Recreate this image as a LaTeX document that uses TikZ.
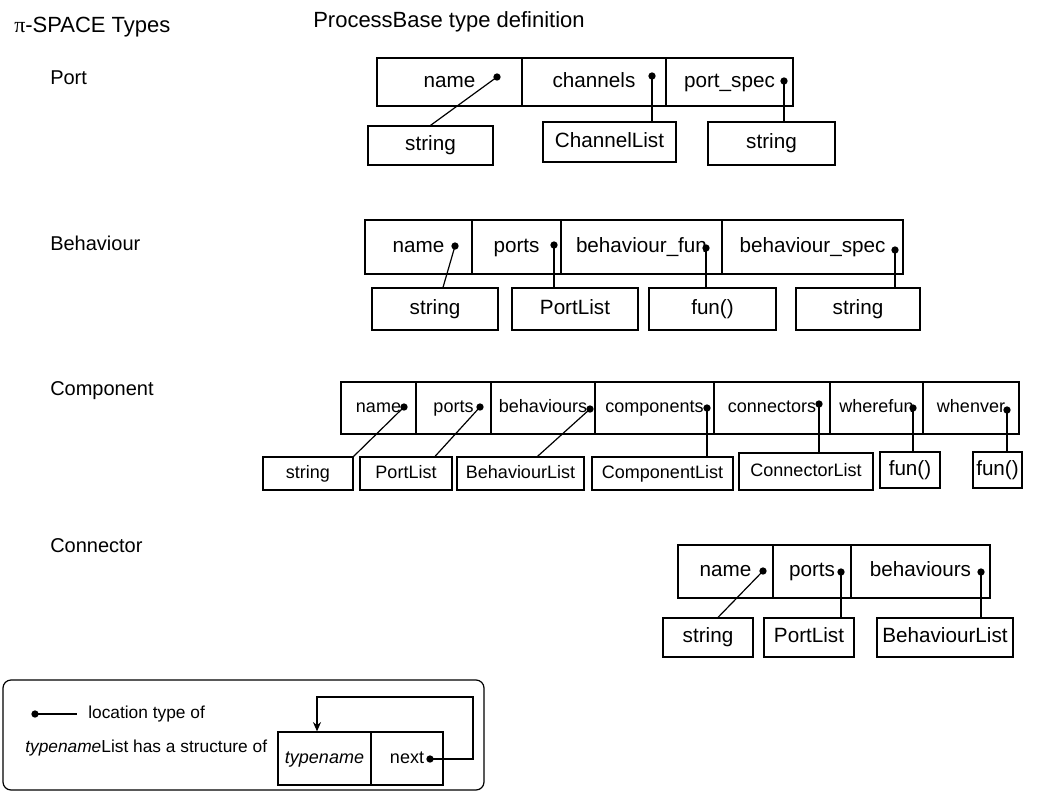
\documentclass[tikz,border=0pt]{standalone}
\usepackage{fontspec}
\setmainfont{Liberation Sans}
\newfontfamily\grk{Liberation Serif}
\usetikzlibrary{calc,arrows.meta}

% a rectangular field: [opts]{x1}{y1}{x2}{y2}{name}{text}
\newcommand{\fieldbox}[7][]{%
  \node[field,#1,minimum width={(#4-#2)*0.75pt},minimum height={(#5-#3)*0.75pt}]
    (#6) at ({(#2+#4)/2},{(#3+#5)/2}) {#7};}

\tikzset{
  field/.style={draw,line width=0.9pt,inner sep=0pt,text height=11.2pt,text depth=3.2pt,
    font=\fontsize{15.5pt}{18pt}\selectfont},
  small/.style={font=\fontsize{13.5pt}{16pt}\selectfont,text height=9.7pt,text depth=2.8pt},
  ldot/.style={circle,fill=black,inner sep=0pt,minimum size=5.5pt},
  link/.style={line width=0.9pt},
  lbl/.style={anchor=west,inner sep=0pt,font=\fontsize{15pt}{18pt}\selectfont},
  legtext/.style={anchor=west,inner sep=0pt,font=\fontsize{13pt}{16pt}\selectfont},
}

\begin{document}
\begin{tikzpicture}[x=0.75pt,y=-0.75pt]
\useasboundingbox (0,0) rectangle (1043,793);

% headings
\node[lbl,font=\fontsize{16.5pt}{19pt}\selectfont] (ttl) at (14,27) {{\grk π}-SPACE Types};
\node[lbl,font=\fontsize{16.5pt}{19pt}\selectfont] (sub) at (313,22) {ProcessBase type definition};

% type labels
\node[lbl] (lport) at (50,78) {Port};
\node[lbl] (lbeh)  at (50,243) {Behaviour};
\node[lbl] (lcomp) at (50,391) {Component};
\node[lbl] (lconn) at (50,546) {Connector};

% ---------------- Port
\fieldbox{377}{58}{522}{106}{p1}{name}
\fieldbox{522}{58}{666}{106}{p2}{channels}
\fieldbox{666}{58}{793}{106}{p3}{port\_spec}
\fieldbox{368}{126}{493}{165}{pc1}{string}
\fieldbox{543}{122}{676}{162}{pc2}{ChannelList}
\fieldbox{708}{122}{835}{165}{pc3}{string}
\node[ldot] (pd1) at (497,77) {};
\node[ldot] (pd2) at (652,76) {};
\node[ldot] (pd3) at (784,81) {};
\draw[link] (pd1.center) -- (pc1.north);
\draw[link] (pd2.center) -- (pd2.center |- pc2.north);
\draw[link] (pd3.center) -- (pd3.center |- pc3.north);

% ---------------- Behaviour
\fieldbox{365}{220}{472}{274}{b1}{name}
\fieldbox{472}{220}{561}{274}{b2}{ports}
\fieldbox{561}{220}{722}{274}{b3}{behaviour\_fun}
\fieldbox{722}{220}{903}{274}{b4}{behaviour\_spec}
\fieldbox{372}{288}{498}{330}{bc1}{string}
\fieldbox{512}{288}{638}{330}{bc2}{PortList}
\fieldbox{649}{288}{776}{330}{bc3}{fun()}
\fieldbox{796}{288}{920}{330}{bc4}{string}
\node[ldot] (bd1) at (455,246) {};
\node[ldot] (bd2) at (554,245) {};
\node[ldot] (bd3) at (706,248) {};
\node[ldot] (bd4) at (895,250) {};
\draw[link] (bd1.center) -- ($(bc1.north)+(8,0)$);
\draw[link] (bd2.center) -- (bd2.center |- bc2.north);
\draw[link] (bd3.center) -- (bd3.center |- bc3.north);
\draw[link] (bd4.center) -- (bd4.center |- bc4.north);

% ---------------- Component
\fieldbox[small]{341}{382}{416}{434}{c1}{name}
\fieldbox[small]{416}{382}{491}{434}{c2}{ports}
\fieldbox[small]{491}{382}{595}{434}{c3}{behaviours}
\fieldbox[small]{595}{382}{714}{434}{c4}{components}
\fieldbox[small]{714}{382}{830}{434}{c5}{connectors}
\fieldbox[small]{830}{382}{923}{434}{c6}{wherefun}
\fieldbox[small]{923}{382}{1019}{434}{c7}{whenver}
\fieldbox[small]{263}{457}{353}{490}{cc1}{string}
\fieldbox[small]{360}{457}{452}{490}{cc2}{PortList}
\fieldbox[small]{457}{457}{584}{490}{cc3}{BehaviourList}
\fieldbox[small]{592}{457}{733}{490}{cc4}{ComponentList}
\fieldbox[small]{739}{453}{873}{490}{cc5}{ConnectorList}
\fieldbox{880}{452}{940}{488}{cc6}{fun()}
\fieldbox{973}{452}{1022}{488}{cc7}{fun()}
\node[ldot] (cd1) at (404,407) {};
\node[ldot] (cd2) at (480,407) {};
\node[ldot] (cd3) at (590,409) {};
\node[ldot] (cd4) at (707,408) {};
\node[ldot] (cd5) at (819,404) {};
\node[ldot] (cd6) at (913,408) {};
\node[ldot] (cd7) at (1007,410) {};
\draw[link] (cd1.center) -- (cc1.north east);
\draw[link] (cd2.center) -- ($(cc2.north)+(29,0)$);
\draw[link] (cd3.center) -- ($(cc3.north)+(17,0)$);
\draw[link] (cd4.center) -- (cd4.center |- cc4.north);
\draw[link] (cd5.center) -- (cd5.center |- cc5.north);
\draw[link] (cd6.center) -- (cd6.center |- cc6.north);
\draw[link] (cd7.center) -- (cd7.center |- cc7.north);

% ---------------- Connector
\fieldbox{678}{545}{773}{598}{k1}{name}
\fieldbox{773}{545}{851}{598}{k2}{ports}
\fieldbox{851}{545}{990}{598}{k3}{behaviours}
\fieldbox{663}{618}{753}{657}{kc1}{string}
\fieldbox{764}{618}{854}{657}{kc2}{PortList}
\fieldbox{877}{618}{1013}{657}{kc3}{BehaviourList}
\node[ldot] (kd1) at (763,571) {};
\node[ldot] (kd2) at (841,572) {};
\node[ldot] (kd3) at (981,572) {};
\draw[link] (kd1.center) -- ($(kc1.north)+(10,0)$);
\draw[link] (kd2.center) -- (kd2.center |- kc2.north);
\draw[link] (kd3.center) -- (kd3.center |- kc3.north);

% ---------------- legend
\node[draw,line width=0.9pt,rounded corners=6pt,inner sep=0pt,
      minimum width={481*0.75pt},minimum height={110*0.75pt}] (leg) at (243.5,735) {};
\node[ldot] (ld) at (35,714) {};
\coordinate (le) at (77,714);
\draw[link] (ld.center) -- (le);
\node[legtext] (lt1) at (88,714) {location type of};
\node[legtext] (lt2) at (25,748) {\textit{typename}List has a structure of};
\fieldbox[small]{278}{732}{371}{785}{tn}{\textit{typename}}
\fieldbox[small]{371}{732}{443}{785}{nx}{next\hspace{14pt}}
\node[ldot] (nd) at (430,759) {};
\coordinate (lp1) at (473,759);
\coordinate (lp2) at (473,697);
\coordinate (lp3) at (317,697);
\draw[link,-{Stealth[length=7pt,width=6pt]}] (nd.center) -- (lp1) -- (lp2) -- (lp3) -- (lp3 |- tn.north);
\end{tikzpicture}
\end{document}
